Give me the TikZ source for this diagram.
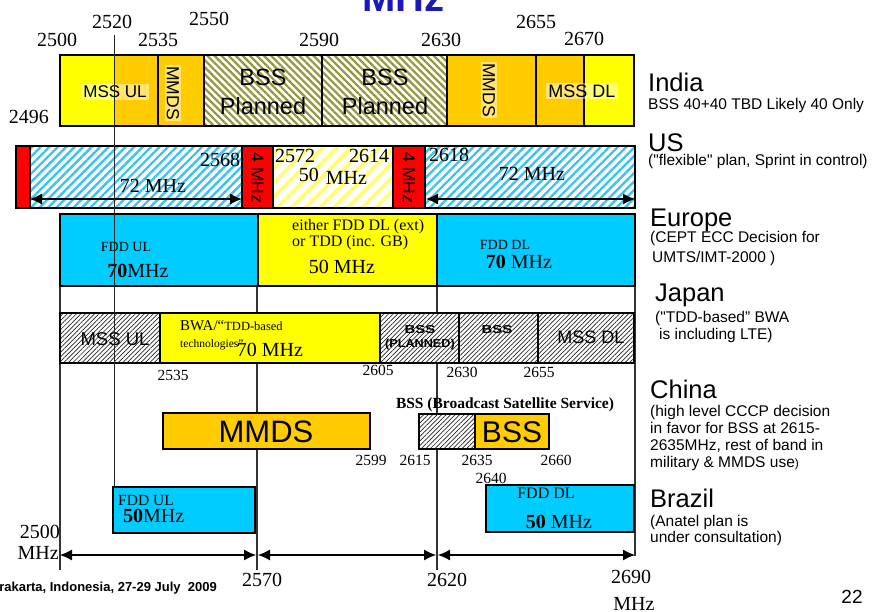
\documentclass[tikz,border=0pt]{standalone}
\usepackage{fontspec}
\usepackage{graphicx}
\setmainfont{Liberation Serif}
\setsansfont{Liberation Sans}
\newfontfamily\plainsans{Liberation Sans}[Ligatures=ResetAll]
\usetikzlibrary{arrows.meta,patterns.meta}

\definecolor{bandyellow}{HTML}{FFFF00}
\definecolor{bandgold}{HTML}{FFCC00}
\definecolor{bandcyan}{HTML}{00CCFF}
\definecolor{bandred}{HTML}{FF0000}
\definecolor{stripeblue}{HTML}{3DC3EE}
\definecolor{stripeyellow}{HTML}{FFFF70}
\definecolor{stripeolive}{HTML}{96963A}
\definecolor{titleblue}{HTML}{1A1AB8}

\tikzset{
  band/.style={draw=black, line width=1.1pt},
  gridline/.style={draw=black!80, line width=1.1pt},
  thinline/.style={draw=black!85, line width=0.8pt},
  span/.style={{Latex[length=12pt,width=11pt]}-{Latex[length=12pt,width=11pt]}, line width=1.1pt},
  bluestripe/.style={preaction={fill=white}, pattern={Lines[angle=45,distance=6pt,line width=2.4pt]}, pattern color=stripeblue},
  yellowstripe/.style={preaction={fill=white}, pattern={Lines[angle=45,distance=10pt,line width=3.5pt]}, pattern color=stripeyellow},
  olivestripe/.style={preaction={fill=white}, pattern={Lines[angle=-45,distance=5pt,line width=2.2pt]}, pattern color=stripeolive},
  greystripe/.style={preaction={fill=white}, pattern={Lines[angle=45,distance=3.2pt,line width=0.7pt]}, pattern color=black!85},
  freq/.style={font=\fontsize{20}{24}\selectfont, inner sep=0pt},
  freqsmall/.style={font=\fontsize{15.5}{18}\selectfont, inner sep=0pt},
  serifsmall/.style={font=\fontsize{14}{16}\selectfont, inner sep=0pt},
  bandlabel/.style={font=\sffamily\fontsize{18}{21}\selectfont, inner sep=0pt},
  bigband/.style={font=\sffamily\fontsize{31}{34}\selectfont, inner sep=0pt},
  vlabel/.style={font=\sffamily\fontsize{17.5}{20}\selectfont, rotate=-90, inner sep=1.5pt},
  paler/.style={fill=white, fill opacity=0.45, text opacity=1},
  country/.style={font=\sffamily\fontsize{25.5}{30}\selectfont, anchor=base west, inner sep=0pt},
  remark/.style={font=\sffamily\fontsize{15.5}{17}\selectfont, anchor=base west, inner sep=0pt},
  boldsmall/.style={font=\sffamily\bfseries\fontsize{11.5}{14}\selectfont, inner sep=0pt}
}

\begin{document}
\begin{tikzpicture}[x=1pt,y=-1pt]
\clip (0,0) rectangle (873,612);
\fill[white] (0,0) rectangle (873,612);

% title, cut by the top edge
\node[font=\sffamily\bfseries\fontsize{40}{44}\selectfont, text=titleblue, anchor=base east, inner sep=0pt] (title) at (445,12) {MHz};

% frequency grid
\draw[gridline] (60,214) -- (60,570);
\draw[gridline] (257,214) -- (257,570);
\draw[gridline] (437,214) -- (437,570);
\draw[gridline] (635,214) -- (635,556);

% India
\fill[bandyellow] (60,55) rectangle (114,126);
\fill[bandgold] (114,55) rectangle (158,126);
\draw[band] (60,55) rectangle (158,126);
\draw[band, fill=bandgold] (158,55) rectangle (204,126);
\draw[band, olivestripe] (204,55) rectangle (322,126);
\draw[band, olivestripe] (322,55) rectangle (447,126);
\draw[band, fill=bandgold] (447,55) rectangle (536,126);
\fill[bandgold] (536,55) rectangle (584,126);
\fill[bandyellow] (584,55) rectangle (634,126);
\draw[band] (536,55) rectangle (634,126);
\draw[band] (584,55) -- (584,126);

\node[bandlabel, paler, inner sep=2pt, font=\sffamily\fontsize{17}{20}\selectfont] (in-mssul) at (115,92) {MSS UL};
\node[vlabel, paler] (in-mmdsa) at (173,93) {MMDS};
\node[font=\sffamily\fontsize{23.5}{29}\selectfont, align=center, inner sep=0pt] (in-bssa) at (263,91.5) {BSS\\Planned};
\node[font=\sffamily\fontsize{23.5}{29}\selectfont, align=center, inner sep=0pt] (in-bssb) at (385,91.5) {BSS\\Planned};
\node[vlabel, paler] (in-mmdsb) at (489,90) {MMDS};
\node[bandlabel, paler, inner sep=2pt] (in-mssdl) at (582,91) {MSS DL};

\node[freq] (t2500) at (57,40) {2500};
\node[freq] (t2520) at (112,22) {2520};
\node[freq] (t2535) at (158,40) {2535};
\node[freq] (t2550) at (209,19) {2550};
\node[freq] (t2590) at (319,40) {2590};
\node[freq] (t2630) at (441,40) {2630};
\node[freq] (t2655) at (536,22) {2655};
\node[freq] (t2670) at (584,39) {2670};
\node[freq] (t2496) at (29,117) {2496};

% US
\draw[band, fill=bandred] (16,146) rectangle (30,208);
\draw[band, bluestripe] (30,146) rectangle (242,208);
\draw[band, fill=bandred] (242,146) rectangle (273,208);
\draw[band, yellowstripe] (273,146) rectangle (393,208);
\draw[band, fill=bandred] (393,146) rectangle (425,208);
\draw[band, bluestripe] (425,146) rectangle (635,208);

\node[vlabel] (us-4a) at (257.5,178) {4 MHz};
\node[vlabel] (us-4b) at (409,178) {4 MHz};
\node[freq] (u2568) at (220,160) {2568};
\node[freq] (u2572) at (295,156) {2572};
\node[freq] (u2614) at (369,156) {2614};
\node[freq] (u2618) at (449,155) {2618};
\node[freq] (us-50) at (333,176) {50\hspace{7pt}\raisebox{-3pt}{MHz}};
\node[freq] (us-72a) at (153,186) {72 MHz};
\node[freq] (us-72b) at (532,174) {72 MHz};

\coordinate (usa-l) at (30,199);
\coordinate (usa-r) at (242,199);
\coordinate (usb-l) at (426,199);
\coordinate (usb-r) at (635,199);
\draw[span] (usa-l) -- (usa-r);
\draw[span] (usb-l) -- (usb-r);

% Europe
\draw[band, fill=bandcyan] (60,214) rectangle (258,286);
\draw[band, fill=bandyellow] (258,214) rectangle (437,286);
\draw[band, fill=bandcyan] (437,214) rectangle (635,286);

\node[serifsmall] (eu-fddul) at (126,247) {FDD UL};
\node[freq] (eu-70a) at (138,271) {\textbf{70}MHz};
\node[font=\fontsize{16}{19}\selectfont, anchor=base west, inner sep=0pt] (eu-either) at (292,231) {either FDD DL (ext)};
\node[font=\fontsize{16}{19}\selectfont, anchor=base west, inner sep=0pt] (eu-ortdd) at (292,247) {or TDD (inc. GB)};
\node[freq] (eu-50) at (342,267) {50 MHz};
\node[serifsmall] (eu-fdddl) at (505,245) {FDD DL};
\node[freq] (eu-70b) at (519,262) {\textbf{70} MHz};

% Japan
\draw[band, greystripe] (60,313) rectangle (160,363);
\draw[band, fill=bandyellow] (160,313) rectangle (380,363);
\draw[band, greystripe] (380,313) rectangle (459,363);
\draw[band, greystripe] (459,313) rectangle (538,363);
\draw[band, greystripe] (538,313) rectangle (634,363);

\node[bandlabel, font=\sffamily\fontsize{18.5}{21}\selectfont] (jp-mssul) at (115,339) {MSS UL};
\node[anchor=west, inner sep=0pt] (jp-bwa) at (180,326) {{\fontsize{15}{18}\selectfont BWA/“}{\fontsize{12.5}{15}\selectfont TDD-based}};
\node[anchor=west, inner sep=0pt, font=\fontsize{11.5}{14}\selectfont] (jp-tech) at (180,345) {technologies”};
\node[freq] (jp-70) at (270,350) {70 MHz};
\node[boldsmall, align=center] (jp-bsspl) at (420,338) {\scalebox{1.3}[1]{BSS}\\\scalebox{1.1}[1]{(PLANNED)}};
\node[boldsmall] (jp-bss) at (497,330) {\scalebox{1.3}[1]{BSS}};
\node[bandlabel] (jp-mssdl) at (591,337) {MSS DL};

\node[freqsmall] (j2535) at (173,375) {2535};
\node[freqsmall] (j2605) at (378,370) {2605};
\node[freqsmall] (j2630) at (462,372) {2630};
\node[freqsmall] (j2655) at (539,372) {2655};

% China
\draw[band, fill=bandgold] (163,413) rectangle (370,449);
\draw[band, greystripe] (419,414) rectangle (475,449);
\draw[band, fill=bandgold] (475,414) rectangle (549,449);

\node[font=\bfseries\fontsize{15.5}{18}\selectfont, inner sep=0pt] (cn-bsstitle) at (505,405) {BSS (Broadcast Satellite Service)};
\node[bigband] (cn-mmds) at (266,432) {MMDS};
\node[bigband, font=\sffamily\fontsize{30}{34}\selectfont] (cn-bss) at (512,432) {BSS};
\node[freqsmall] (c2599) at (371,460) {2599};
\node[freqsmall] (c2615) at (415,460) {2615};
\node[freqsmall] (c2635) at (477,460) {2635};
\node[freqsmall] (c2660) at (556,460) {2660};
\node[freqsmall] (c2640) at (491,478) {2640};

% Brazil
\draw[band, fill=bandcyan] (113,487) rectangle (255,533);
\draw[band, fill=bandcyan] (486,485) rectangle (634,532);

\node[font=\fontsize{15.5}{18}\selectfont, anchor=west, inner sep=0pt] (br-fddul) at (118,500) {FDD UL};
\node[freq, anchor=west] (br-50a) at (123,516) {\textbf{50}MHz};
\node[font=\fontsize{16}{18}\selectfont, inner sep=0pt] (br-fdddl) at (546,493) {FDD DL};
\node[freq] (br-50b) at (559,522) {\textbf{50} MHz};

% 2500-2690 axis
\coordinate (ax2500) at (60,555);
\coordinate (ax2570l) at (256,555);
\coordinate (ax2570r) at (258,555);
\coordinate (ax2620l) at (436,555);
\coordinate (ax2620r) at (438,555);
\coordinate (ax2690) at (635,555);
\draw[span] (ax2500) -- (ax2570l);
\draw[span] (ax2570r) -- (ax2620l);
\draw[span] (ax2620r) -- (ax2690);

\node[freq, anchor=east] (b2500) at (60,532) {2500};
\node[freq, anchor=east] (bmhz) at (59,553) {MHz};
\node[freq] (b2570) at (262,580) {2570};
\node[freq] (b2620) at (447,580) {2620};
\node[freq] (b2690) at (631,577) {2690};
\node[freq] (bmhz2) at (634,604) {MHz};

% 2520 line on top
\draw[thinline] (114,35) -- (114,487);

% countries
\node[country] (india) at (648,92) {India};
\node[remark] (india-n1) at (648,110) {BSS 40+40 TBD Likely 40 Only};
\node[country] (us) at (648,152) {US};
\node[remark, font=\plainsans\fontsize{15.5}{17}\selectfont] (us-n1) at (648,166) {("flexible" plan, Sprint in control)};
\node[country] (europe) at (650,227) {Europe};
\node[remark] (europe-n1) at (650,243) {(CEPT ECC Decision for};
\node[remark] (europe-n2) at (652,263) {UMTS/IMT-2000 )};
\node[country] (japan) at (655,302) {Japan};
\node[remark, font=\plainsans\fontsize{15.5}{17}\selectfont] (japan-n1) at (655,323) {("TDD-based” BWA};
\node[remark] (japan-n2) at (659,340) {is including LTE)};
\node[country] (china) at (650,398) {China};
\node[remark] (china-n1) at (650,416.5) {(high level CCCP decision};
\node[remark] (china-n2) at (650,433) {in favor for BSS at 2615-};
\node[remark] (china-n3) at (650,450) {2635MHz, rest of band in};
\node[remark] (china-n4) at (650,467) {military \& MMDS use\fontsize{12}{14}\selectfont)};
\node[country] (brazil) at (650,507) {Brazil};
\node[remark] (brazil-n1) at (650,526) {(Anatel plan is};
\node[remark] (brazil-n2) at (650,542) {under consultation)};

% footer
\node[font=\sffamily\bfseries\fontsize{13}{15}\selectfont, anchor=base east, inner sep=0pt] (footer) at (217,591) {Surakarta, Indonesia, 27-29 July\ \ 2009};
\node[font=\sffamily\fontsize{19}{22}\selectfont, anchor=base, inner sep=0pt] (pageno) at (852,603) {22};
\end{tikzpicture}
\end{document}
